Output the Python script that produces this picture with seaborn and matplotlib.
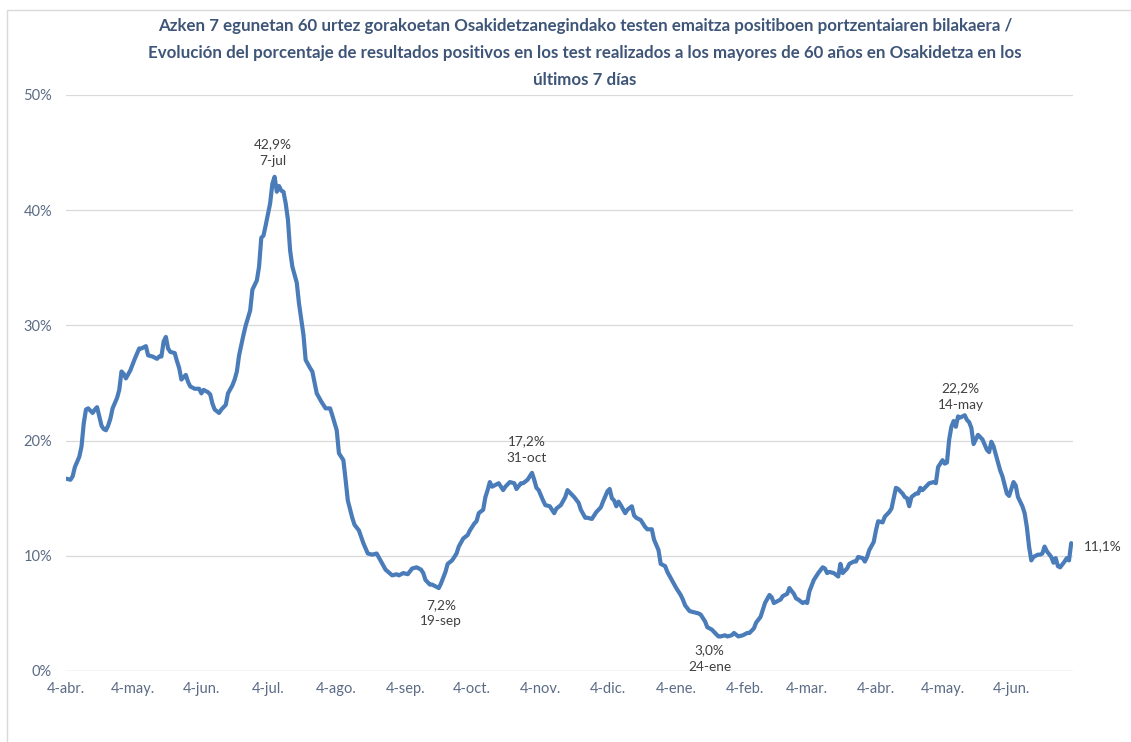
import matplotlib
matplotlib.use("Agg")
import matplotlib.pyplot as plt
import matplotlib.dates as mdates
from matplotlib.patches import Rectangle
import pandas as pd
import seaborn as sns

# ---- data ----
start_date = "2022-04-04"
day = [0, 2, 3, 4, 6, 7, 8, 9, 10, 12, 13, 14, 15, 16, 17, 18, 19, 20, 21, 23, 24, 25, 26, 27, 29,
       31, 33, 34, 36, 37, 39, 41, 42, 43, 44, 45, 46, 47, 49, 50, 51, 52, 54, 55, 56, 58, 60, 61,
       62, 64, 65, 66, 67, 69, 70, 72, 73, 75, 76, 77, 78, 80, 81, 83, 84, 86, 87, 88, 89, 90, 92,
       93, 94, 95, 96, 97, 98, 99, 100, 101, 102, 104, 105, 107, 108, 110, 111, 113, 115, 117, 119,
       120, 122, 123, 125, 126, 127, 129, 130, 132, 134, 136, 138, 140, 142, 144, 147, 149, 150,
       152, 154, 156, 158, 160, 161, 162, 164, 165, 166, 168, 169, 171, 172, 174, 176, 177, 179,
       181, 182, 184, 185, 186, 188, 189, 190, 191, 192, 193, 195, 197, 198, 200, 202, 203, 205,
       206, 208, 210, 211, 212, 213, 215, 216, 218, 220, 221, 223, 225, 226, 228, 229, 231, 232,
       234, 235, 237, 239, 241, 242, 244, 245, 246, 247, 248, 249, 250, 252, 253, 255, 256, 257,
       259, 261, 262, 264, 265, 267, 268, 270, 271, 273, 275, 277, 278, 279, 281, 283, 285, 286,
       288, 289, 291, 292, 294, 295, 297, 298, 300, 301, 303, 305, 307, 308, 310, 311, 313, 314,
       315, 317, 318, 319, 320, 322, 323, 325, 326, 328, 329, 330, 332, 333, 334, 335, 337, 339,
       341, 342, 343, 344, 346, 348, 349, 350, 352, 353, 355, 356, 357, 359, 360, 361, 362, 364,
       365, 366, 368, 369, 371, 372, 373, 374, 375, 377, 378, 379, 380, 381, 383, 384, 385, 386,
       388, 389, 391, 392, 393, 395, 396, 397, 398, 399, 400, 401, 402, 403, 405, 406, 407, 408,
       409, 411, 413, 415, 416, 417, 418, 419, 421, 422, 424, 425, 427, 428, 429, 431, 432, 433,
       434, 435, 436, 438, 439, 440, 441, 442, 444, 445, 446, 447, 448, 450, 451, 452, 453]
pct = [16.7, 16.6, 16.9, 17.7, 18.6, 19.5, 21.5, 22.7, 22.8, 22.4, 22.7, 22.9, 22.1, 21.3, 21.0,
       20.9, 21.3, 21.9, 22.8, 23.7, 24.4, 26.0, 25.8, 25.4, 26.1, 27.1, 28.0, 28.0, 28.2, 27.4,
       27.3, 27.1, 27.3, 27.3, 28.6, 29.0, 28.0, 27.7, 27.6, 26.9, 26.3, 25.3, 25.7, 25.1, 24.7,
       24.5, 24.5, 24.1, 24.4, 24.2, 24.0, 23.2, 22.7, 22.4, 22.7, 23.1, 24.1, 24.8, 25.3, 26.0,
       27.4, 29.2, 30.0, 31.3, 33.1, 33.9, 35.1, 37.6, 37.8, 38.7, 40.6, 42.3, 42.9, 41.6, 42.1,
       41.7, 41.6, 40.6, 39.2, 36.5, 35.1, 33.7, 31.9, 29.2, 27.0, 26.3, 26.0, 24.1, 23.4, 22.8,
       22.8, 22.2, 20.9, 18.9, 18.3, 16.6, 14.8, 13.3, 12.7, 12.2, 11.1, 10.2, 10.1, 10.2, 9.5,
       8.8, 8.3, 8.4, 8.3, 8.5, 8.4, 8.9, 9.0, 8.8, 8.5, 7.9, 7.5, 7.5, 7.4, 7.2, 7.6, 8.6, 9.3,
       9.6, 10.2, 10.8, 11.5, 11.8, 12.2, 12.8, 13.0, 13.7, 14.0, 15.1, 15.7, 16.4, 16.0, 16.1,
       16.3, 15.7, 16.0, 16.4, 16.3, 15.8, 16.3, 16.3, 16.6, 17.2, 16.6, 15.9, 15.7, 14.8, 14.4,
       14.3, 13.7, 14.1, 14.4, 15.1, 15.7, 15.3, 15.1, 14.6, 14.0, 13.3, 13.3, 13.2, 13.8, 14.2,
       14.7, 15.6, 15.8, 15.0, 14.8, 14.3, 14.7, 14.4, 13.7, 14.0, 14.3, 13.5, 13.3, 13.1, 12.5,
       12.3, 12.3, 11.4, 10.5, 9.3, 9.1, 8.6, 7.9, 7.2, 6.6, 6.2, 5.7, 5.2, 5.1, 5.0, 4.9, 4.3,
       3.8, 3.6, 3.4, 3.0, 3.0, 3.1, 3.0, 3.1, 3.3, 3.0, 3.1, 3.3, 3.3, 3.7, 4.2, 4.7, 5.3, 5.9,
       6.6, 6.4, 5.9, 6.0, 6.2, 6.5, 6.7, 7.2, 6.7, 6.3, 6.2, 5.9, 6.0, 5.9, 6.9, 7.9, 8.5, 9.0,
       8.9, 8.5, 8.6, 8.5, 8.2, 9.3, 8.5, 8.9, 9.3, 9.5, 9.5, 9.9, 9.8, 9.5, 9.9, 10.5, 11.2,
       12.2, 13.0, 12.9, 13.4, 13.8, 14.1, 15.0, 15.9, 15.8, 15.4, 15.1, 15.0, 14.3, 15.1, 15.4,
       15.4, 15.9, 15.7, 16.1, 16.3, 16.4, 16.3, 17.7, 18.3, 18.0, 18.1, 20.1, 21.2, 21.7, 21.2,
       22.1, 22.0, 22.2, 21.8, 21.6, 21.1, 19.7, 20.5, 20.1, 19.2, 19.0, 19.9, 19.5, 18.8, 17.4,
       16.9, 15.4, 15.2, 16.4, 16.1, 15.1, 14.3, 13.7, 12.5, 10.8, 9.6, 9.9, 10.1, 10.1, 10.2,
       10.8, 10.4, 9.9, 9.4, 9.8, 9.1, 9.0, 9.5, 9.8, 9.6, 11.1]

tick_dates = ["2022-04-04", "2022-05-04", "2022-06-04", "2022-07-04", "2022-08-04", "2022-09-04",
              "2022-10-04", "2022-11-04", "2022-12-04", "2023-01-04", "2023-02-04", "2023-03-04",
              "2023-04-04", "2023-05-04", "2023-06-04"]
tick_labels = ["4-abr.", "4-may.", "4-jun.", "4-jul.", "4-ago.", "4-sep.", "4-oct.", "4-nov.",
               "4-dic.", "4-ene.", "4-feb.", "4-mar.", "4-abr.", "4-may.", "4-jun."]

# annotated points: (day, value text, date text)
ann_day = [94, 168, 210, 295, 405]
ann_val = ["42,9%", "7,2%", "17,2%", "3,0%", "22,2%"]
ann_date = ["7-jul", "19-sep", "31-oct", "24-ene", "14-may"]
last_label = "11,1%"

title = ("Azken 7 egunetan 60 urtez gorakoetan Osakidetzanegindako testen emaitza positiboen portzentaiaren bilakaera /\n"
         "Evolución del porcentaje de resultados positivos en los test realizados a los mayores de 60 años en Osakidetza en los\n"
         "últimos 7 días")

# ---- build ----
t0 = pd.Timestamp(start_date)
df = pd.DataFrame({"fecha": t0 + pd.to_timedelta(day, unit="D"), "pct": pct})

sns.set_theme(style="white")
plt.rcParams["font.family"] = ["Lato", "DejaVu Sans"]

W, H = 1131, 742
fig = plt.figure(figsize=(W / 100, H / 100), dpi=100)
ax = fig.add_axes([66 / W, 1 - 671 / H, (1073 - 66) / W, (671 - 95) / H])

LINE = "#4a7cb9"
TICK = "#5b6b85"
ANN = "#404040"
GRID = "#d9d9d9"

sns.lineplot(data=df, x="fecha", y="pct", ax=ax, color=LINE, linewidth=3.0)

ax.set_xlim(t0, t0 + pd.Timedelta(days=453.8))
ax.set_ylim(0, 50)
ax.set_yticks([0, 10, 20, 30, 40, 50])
ax.set_yticklabels([f"{v}%" for v in [0, 10, 20, 30, 40, 50]])
ax.set_xticks(pd.to_datetime(tick_dates))
ax.set_xticklabels(tick_labels)
ax.set_xlabel("")
ax.set_ylabel("")
for s in ax.spines.values():
    s.set_visible(False)
ax.grid(axis="y", color=GRID, linewidth=0.9)
ax.grid(axis="x", visible=False)
ax.tick_params(axis="both", length=0, labelsize=10.5, colors=TICK)
ax.tick_params(axis="y", pad=10)
ax.tick_params(axis="x", pad=8)
ax.axhline(0, color=GRID, linewidth=0.9, zorder=0)

# annotations (offsets in pixels)
offsets = {94: (-2, 24), 168: (2, -25), 210: (-5, 23), 295: (-11, -22), 405: (-4, 19)}
for d, v, lab in zip(ann_day, ann_val, ann_date):
    idx = day.index(d)
    x = df["fecha"].iloc[idx]
    y = pct[idx]
    dx, dy = offsets[d]
    ax.annotate(f"{v}\n{lab}", xy=(x, y), xytext=(dx, dy), textcoords="offset pixels",
                ha="center", va="center", fontsize=9.8, color=ANN, linespacing=1.45)

ax.annotate(last_label, xy=(df["fecha"].iloc[-1], pct[-1]), xytext=(13, -3),
            textcoords="offset pixels", ha="left", va="center", fontsize=9.8, color=ANN)

# title
fig.text(585 / W, 1 - 53 / H, title, ha="center", va="center", fontsize=12.2,
         fontweight="bold", color="#3e5578", linespacing=1.82)

# chart border
fig.patches.append(Rectangle((7 / W, -0.05), 1.1, 1 - 10 / H + 0.05, transform=fig.transFigure,
                             fill=False, edgecolor="#d9d9d9", linewidth=1.0))

fig.savefig("out.png", dpi=100, facecolor="white")
